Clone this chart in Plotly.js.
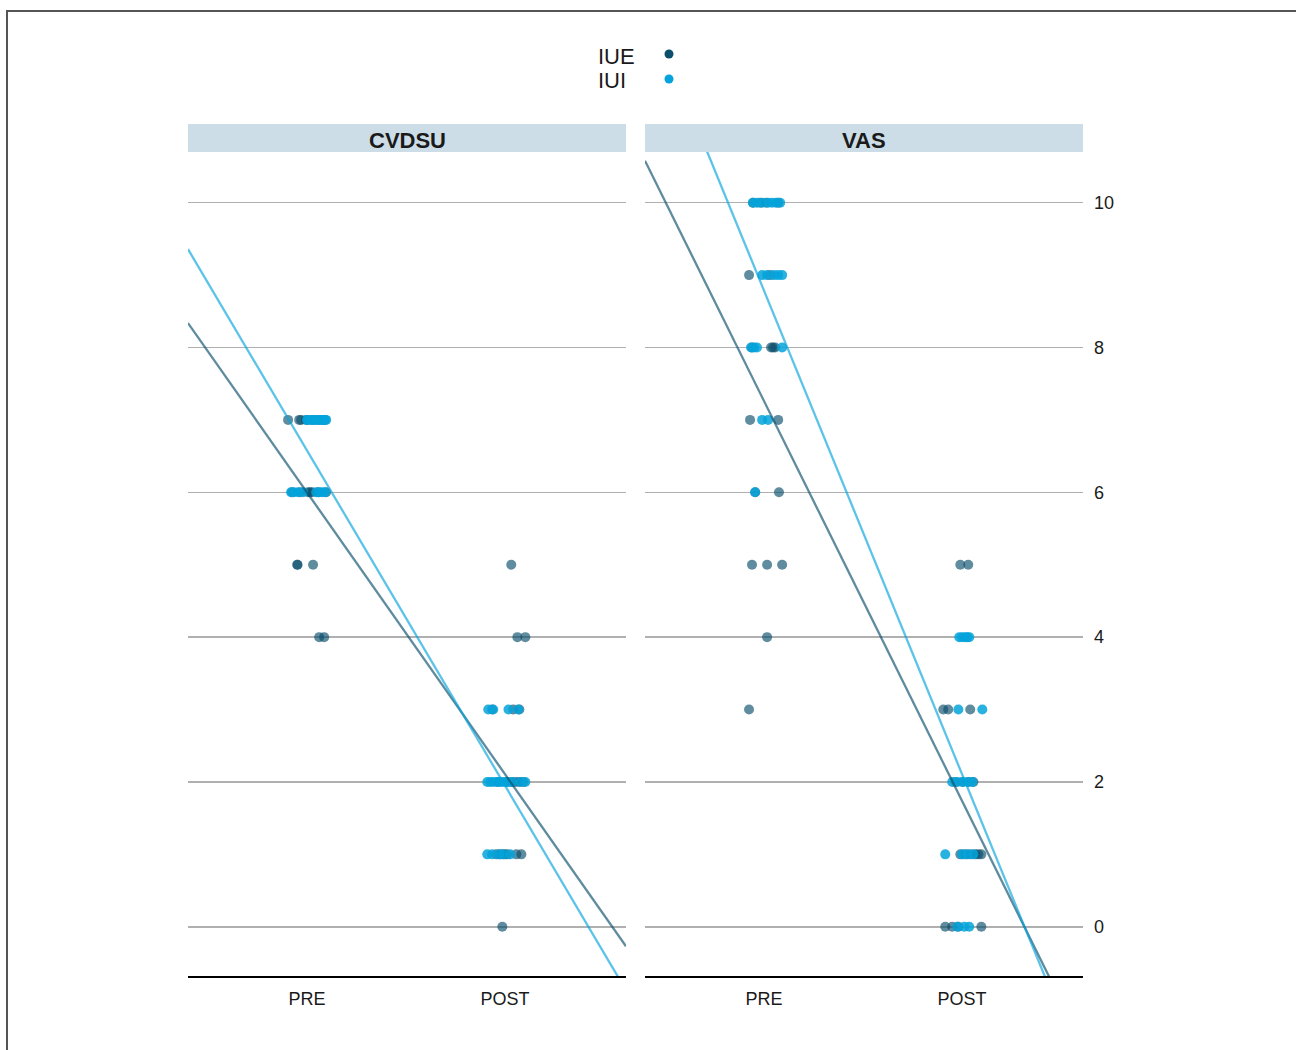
<!DOCTYPE html>
<html>
<head>
<meta charset="utf-8">
<script src="https://cdn.plot.ly/plotly-3.0.1.min.js"></script>
<style>
  html, body { margin: 0; padding: 0; background: #ffffff; overflow: hidden; }
  #chart { position: absolute; left: 0; top: 0; width: 1296px; height: 1050px; }
  #frame { position: absolute; left: 6px; top: 10px; width: 1400px; height: 1200px;
           border: 2px solid #555555; pointer-events: none; }
</style>
</head>
<body>
<div id="chart"></div>
<div id="frame"></div>
<script>
// Categories
const TIMES = ['PRE', 'POST'];
const PANELS = ['CVDSU', 'VAS'];
const GROUPS = ['IUE', 'IUI'];
const Y_TICKS = [0, 2, 4, 6, 8, 10];

// CVDSU scores (one entry per subject) and horizontal jitter per point
const cvdsuIuePre = [7, 7, 7, 7, 7, 7, 7, 6, 6, 6, 6, 6, 6, 6, 5, 5, 5, 4, 4];
const cvdsuIuePreJit = [-0.095, -0.039, -0.029, -0.004, 0.026, 0.057, 0.087, -0.075, -0.034, 0.006, 0.016, 0.026, 0.057, 0.097, -0.049, -0.047, 0.031, 0.062, 0.087];
const cvdsuIuePost = [5, 4, 4, 3, 3, 3, 2, 2, 2, 2, 2, 2, 1, 1, 1, 1, 1, 1, 0];
const cvdsuIuePostJit = [0.031, 0.062, 0.102, -0.065, 0.041, 0.072, -0.039, 0.006, 0.031, 0.052, 0.072, 0.092, -0.044, -0.024, -0.004, 0.011, 0.057, 0.082, -0.014];
const cvdsuIuiPre = [7, 7, 7, 7, 7, 7, 7, 7, 7, 7, 7, 6, 6, 6, 6, 6, 6, 6, 6];
const cvdsuIuiPreJit = [0.001, 0.006, 0.021, 0.036, 0.041, 0.057, 0.067, 0.077, 0.082, 0.092, 0.097, -0.080, -0.065, -0.044, -0.019, 0.047, 0.062, 0.077, 0.092];
const cvdsuIuiPost = [3, 3, 3, 3, 2, 2, 2, 2, 2, 2, 2, 2, 2, 2, 1, 1, 1, 1, 1];
const cvdsuIuiPostJit = [-0.085, -0.060, 0.017, 0.067, -0.090, -0.075, -0.060, -0.039, -0.024, -0.009, 0.011, 0.036, 0.077, 0.102, -0.090, -0.065, -0.029, -0.009, 0.026];

// VAS scores and horizontal jitter per point
const vasIuePre = [10, 10, 10, 10, 9, 9, 8, 8, 8, 8, 7, 7, 6, 6, 5, 5, 5, 4, 3];
const vasIuePreJit = [-0.054, -0.019, 0.011, 0.072, -0.075, 0.031, -0.060, 0.036, 0.046, 0.057, -0.070, 0.072, 0.076, -0.044, -0.060, 0.016, 0.092, 0.016, -0.075];
const vasIuePost = [5, 5, 3, 3, 3, 2, 2, 2, 2, 1, 1, 1, 1, 1, 1, 0, 0, 0, 0];
const vasIuePostJit = [-0.009, 0.031, -0.095, -0.070, 0.041, -0.034, 0.001, 0.031, 0.057, -0.009, 0.016, 0.041, 0.067, 0.082, 0.097, -0.085, -0.050, -0.019, 0.097];
const vasIuiPre = [10, 10, 10, 10, 10, 10, 10, 9, 9, 9, 9, 9, 8, 8, 8, 8, 7, 7, 6];
const vasIuiPreJit = [-0.056, -0.035, -0.009, 0.021, 0.041, 0.061, 0.082, -0.009, 0.016, 0.051, 0.072, 0.092, -0.065, -0.050, -0.035, 0.092, -0.009, 0.021, -0.044];
const vasIuiPost = [4, 4, 4, 4, 4, 3, 3, 2, 2, 2, 2, 2, 1, 1, 1, 1, 0, 0, 0];
const vasIuiPostJit = [-0.014, 0.001, 0.016, 0.026, 0.036, -0.019, 0.102, -0.050, -0.024, 0.006, 0.031, 0.052, -0.085, 0.001, 0.026, 0.057, -0.024, 0.011, 0.036];

// Styling
const GROUP_COLORS = { IUE: '11,79,108', IUI: '4,163,219' };
const POINT_ALPHA = { IUE: 0.65, IUI: 0.85 };
const LINE_ALPHA = { IUE: 0.66, IUI: 0.65 };
const X_RANGE = [0.40, 2.61];
const Y_RANGE = [-0.68, 10.70];
const FONT = 'Liberation Sans, Arial, sans-serif';

// Page geometry (pixels) used for the paper-coordinate helpers
const FIG_W = 1296, FIG_H = 1050;
const M = { l: 188, r: 213, t: 152, b: 74 };
const PLOT_W = FIG_W - M.l - M.r;
const PLOT_H = FIG_H - M.t - M.b;
const px2x = px => (px - M.l) / PLOT_W;
const px2y = py => (FIG_H - M.b - py) / PLOT_H;

const panelData = {
  CVDSU: {
    IUE: [cvdsuIuePre, cvdsuIuePreJit, cvdsuIuePost, cvdsuIuePostJit],
    IUI: [cvdsuIuiPre, cvdsuIuiPreJit, cvdsuIuiPost, cvdsuIuiPostJit]
  },
  VAS: {
    IUE: [vasIuePre, vasIuePreJit, vasIuePost, vasIuePostJit],
    IUI: [vasIuiPre, vasIuiPreJit, vasIuiPost, vasIuiPostJit]
  }
};

// Ordinary least squares of score on time (PRE = 1, POST = 2)
function linearFit(xs, ys) {
  const n = xs.length;
  const mx = xs.reduce((a, b) => a + b, 0) / n;
  const my = ys.reduce((a, b) => a + b, 0) / n;
  let sxy = 0, sxx = 0;
  for (let i = 0; i < n; i++) {
    sxy += (xs[i] - mx) * (ys[i] - my);
    sxx += (xs[i] - mx) * (xs[i] - mx);
  }
  const slope = sxy / sxx;
  return { slope, intercept: my - slope * mx };
}

const pointTraces = [];
const lineTraces = [];
PANELS.forEach((panel, pi) => {
  const xa = pi === 0 ? 'x' : 'x2';
  const ya = pi === 0 ? 'y' : 'y2';
  GROUPS.forEach(group => {
    const [preS, preJ, postS, postJ] = panelData[panel][group];
    const xJit = preS.map((_, i) => 1 + preJ[i]).concat(postS.map((_, i) => 2 + postJ[i]));
    const yAll = preS.concat(postS);
    pointTraces.push({
      type: 'scatter', mode: 'markers', xaxis: xa, yaxis: ya,
      x: xJit, y: yAll, name: group, showlegend: false, hoverinfo: 'skip',
      marker: { size: 10, color: 'rgba(' + GROUP_COLORS[group] + ',' + POINT_ALPHA[group] + ')', line: { width: 0 } }
    });
    const xTime = preS.map(() => 1).concat(postS.map(() => 2));
    const fit = linearFit(xTime, yAll);
    lineTraces.push({
      type: 'scatter', mode: 'lines', xaxis: xa, yaxis: ya,
      x: X_RANGE.slice(), y: X_RANGE.map(x => fit.intercept + fit.slope * x),
      name: group, showlegend: false, hoverinfo: 'skip',
      line: { width: 2.3, color: 'rgba(' + GROUP_COLORS[group] + ',' + LINE_ALPHA[group] + ')' }
    });
  });
});

const gapPx = 19;
const panelW = (PLOT_W - gapPx) / 2;
const dom1 = [0, panelW / PLOT_W];
const dom2 = [(panelW + gapPx) / PLOT_W, 1];

const xAxisBase = {
  range: X_RANGE, tickvals: [1, 2], ticktext: TIMES, ticks: '',
  showgrid: false, zeroline: false, showline: true, linecolor: '#000000', linewidth: 2,
  tickfont: { family: FONT, size: 18, color: '#1a1a1a' },
  ticklabelstandoff: 5,
  fixedrange: true
};
const yAxisBase = {
  range: Y_RANGE, tickvals: Y_TICKS, ticks: '', showgrid: true,
  gridcolor: '#b0b0b0', gridwidth: 1.6, zeroline: false, showline: false,
  tickfont: { family: FONT, size: 18, color: '#1a1a1a' },
  fixedrange: true
};

const shapes = [];
const annotations = [];
[dom1, dom2].forEach((d, i) => {
  shapes.push({
    type: 'rect', xref: 'paper', yref: 'paper', layer: 'below',
    x0: d[0], x1: d[1], y0: px2y(152), y1: px2y(124),
    fillcolor: '#ccdde7', line: { width: 0 }
  });
  annotations.push({
    xref: 'paper', yref: 'paper', x: (d[0] + d[1]) / 2, y: px2y(140),
    xanchor: 'center', yanchor: 'middle', showarrow: false, text: PANELS[i],
    font: { family: FONT, size: 22, color: '#1a1a1a', weight: 'bold' }
  });
});

// Legend: labels on the left, dots on the right
const legendRows = [56, 81];
GROUPS.forEach((group, i) => {
  annotations.push({
    xref: 'paper', yref: 'paper', x: px2x(596), y: px2y(legendRows[i]),
    xanchor: 'left', yanchor: 'middle', showarrow: false, text: group,
    font: { family: FONT, size: 22, color: '#1a1a1a' }
  });
  const cy = legendRows[i] - 2;
  shapes.push({
    type: 'circle', xref: 'paper', yref: 'paper',
    x0: px2x(664.5), x1: px2x(673.5), y0: px2y(cy + 4.5), y1: px2y(cy - 4.5),
    fillcolor: 'rgb(' + GROUP_COLORS[group] + ')', line: { width: 0 }
  });
});

const layout = {
  width: FIG_W, height: FIG_H,
  margin: M,
  paper_bgcolor: '#ffffff', plot_bgcolor: '#ffffff',
  showlegend: false,
  xaxis: Object.assign({}, xAxisBase, { domain: dom1, anchor: 'y' }),
  xaxis2: Object.assign({}, xAxisBase, { domain: dom2, anchor: 'y2' }),
  yaxis: Object.assign({}, yAxisBase, { anchor: 'x', showticklabels: false }),
  yaxis2: Object.assign({}, yAxisBase, { anchor: 'x2', side: 'right', matches: 'y', showticklabels: true, ticklabelstandoff: 10 }),
  shapes: shapes,
  annotations: annotations
};

Plotly.newPlot('chart', pointTraces.concat(lineTraces), layout, { displayModeBar: false, staticPlot: true });
</script>
</body>
</html>
